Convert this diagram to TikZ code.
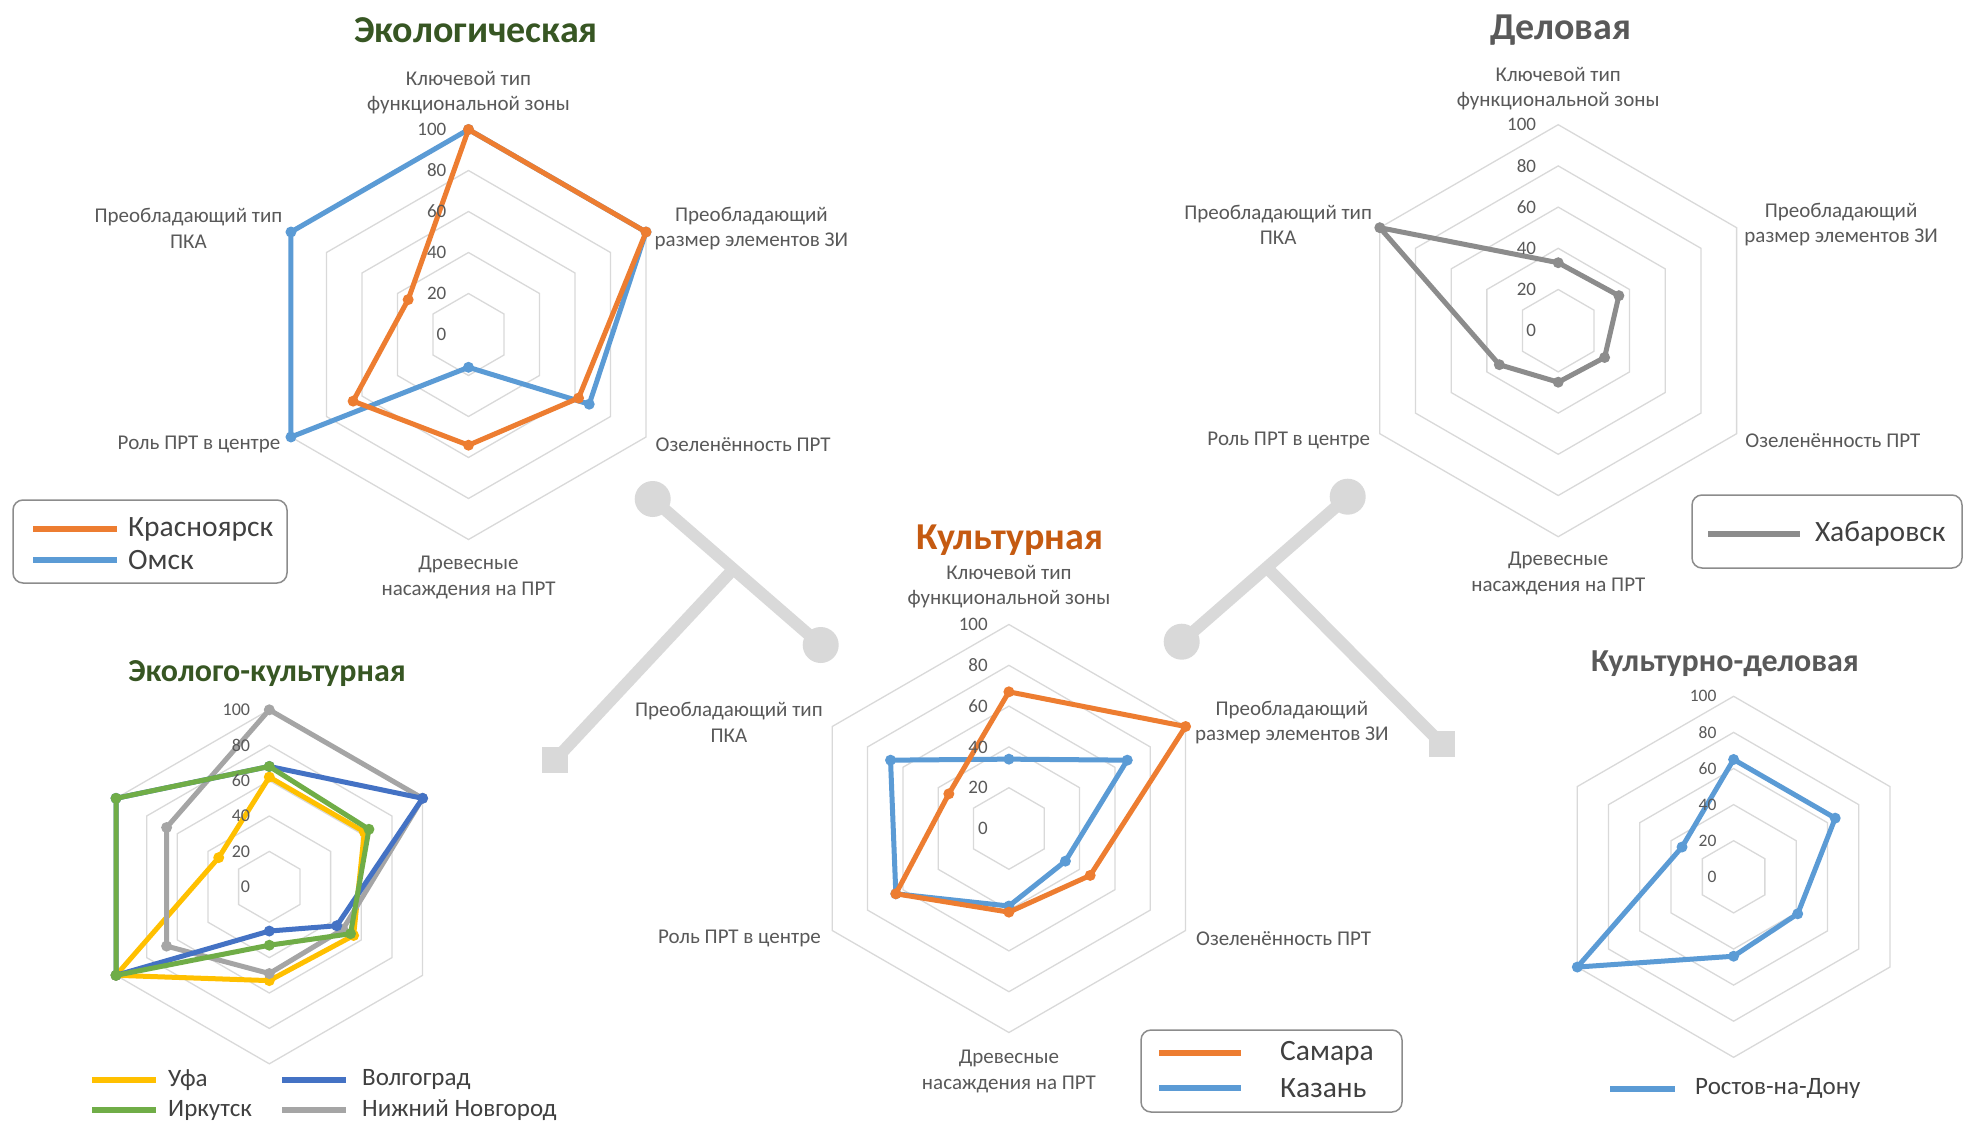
\documentclass[tikz,border=0pt]{standalone}
\usepackage{fontspec}
\setmainfont{Carlito}
\usetikzlibrary{calc}
\definecolor{cOr}{HTML}{ED7D31}
\definecolor{cBl}{HTML}{5B9BD5}
\definecolor{cDb}{HTML}{4472C4}
\definecolor{cGr}{HTML}{70AD47}
\definecolor{cYe}{HTML}{FFC000}
\definecolor{cGy}{HTML}{A5A5A5}
\definecolor{cKh}{HTML}{8C8C8C}
\definecolor{cGrid}{HTML}{D9D9D9}
\definecolor{cTxt}{HTML}{595959}
\definecolor{cLeg}{HTML}{404040}
\definecolor{cBox}{HTML}{8C8C8C}
\definecolor{cTGreen}{HTML}{375623}
\definecolor{cTOr}{HTML}{C55A11}
\definecolor{cConn}{HTML}{D9D9D9}
% grid: cx cy R
\newcommand\mygrid[3]{%
  \begin{scope}[shift={(#1,#2)}]
  \foreach \rr in {1,...,5}{%
    \draw[rgrid] (-90:{\rr/5*#3}) -- (-30:{\rr/5*#3}) -- (30:{\rr/5*#3}) -- (90:{\rr/5*#3}) -- (150:{\rr/5*#3}) -- (210:{\rr/5*#3}) -- cycle;}
  \end{scope}}
% series: cx cy R color values prefix
\newcommand\myseries[6]{%
  \begin{scope}[shift={(#1,#2)}]
  \foreach \vv [count=\kk from 0] in {#5}{%
    \coordinate (#6\kk) at ({60*\kk-90}:{\vv/100*#3});}
  \draw[serline,draw=#4] (#60) -- (#61) -- (#62) -- (#63) -- (#64) -- (#65) -- cycle;
  \foreach \kk in {0,...,5}{\fill[#4] (#6\kk) circle (5.5);}
  \end{scope}}
% scale labels: cx cy R fontsize xoffset prefix
\newcommand\myscale[6]{%
  \foreach \vv [count=\kk from 0] in {0,20,40,60,80,100}{%
    \node[scalelab,font=\fontsize{#4}{#4}\selectfont] (#6s\kk) at ({#1-#5},{#2-\vv/100*#3}) {\vv};}}
% axis labels: cx cy prefix
\newcommand\myaxes[3]{%
  \node[axlab,anchor=center] (#3a0) at (#1,{#2-242}) {Ключевой тип\\функциональной зоны};
  \node[axlab,anchor=west] (#3a1) at ({#1+186},{#2-106}) {Преобладающий\\размер элементов ЗИ};
  \node[axlab,anchor=west] (#3a2) at ({#1+187},{#2+110}) {Озеленённость ПРТ};
  \node[axlab,anchor=center] (#3a3) at (#1,{#2+243}) {Древесные\\насаждения на ПРТ};
  \node[axlab,anchor=east] (#3a4) at ({#1-188},{#2+110}) {Роль ПРТ в центре};
  \node[axlab,anchor=east] (#3a5) at ({#1-186},{#2-106}) {Преобладающий тип\\ПКА};}
\begin{document}
\begin{tikzpicture}[x=1pt,y=-1pt,
  rgrid/.style={draw=cGrid,line width=1.3pt,line join=miter},
  serline/.style={line width=5pt,line join=round},
  axlab/.style={text=cTxt,font=\fontsize{21}{25.5}\selectfont,align=center,inner sep=0pt},
  scalelab/.style={text=cTxt,inner sep=0pt,anchor=east},
  ttl/.style={inner sep=0pt,font=\bfseries\fontsize{38}{44}\selectfont},
  ttlsmall/.style={inner sep=0pt,font=\bfseries\fontsize{32}{38}\selectfont},
  legbox/.style={draw=cBox,line width=1.5pt,rounded corners=10pt,inner sep=0pt},
  legline/.style={line width=6pt},
  legtext/.style={text=cLeg,inner sep=0pt,anchor=west,font=\fontsize{29.5}{34}\selectfont},
  legtextsm/.style={text=cLeg,inner sep=0pt,anchor=west,font=\fontsize{25}{29}\selectfont},
  conn/.style={draw=cConn,line width=12pt},
  connc/.style={circle,fill=cConn,minimum size=36pt,inner sep=0pt},
  connsq/.style={rectangle,fill=cConn,minimum size=26pt,inner sep=0pt}]
\fill[white] (0,0) rectangle (1964,1126);
\useasboundingbox (0,0) rectangle (1964,1126);

% ---------- connectors ----------
\node[connc] (cA) at (652.7,499) {};
\node[connc] (cB) at (820.7,645) {};
\coordinate (jL) at ($(cA)!0.48!(cB)$);
\node[connsq] (sqL) at (555,760) {};
\draw[conn] (cA.center) -- (cB.center);
\draw[conn] (jL) -- (sqL.center);
\node[connc] (cC) at (1347.7,496.7) {};
\node[connc] (cD) at (1181.7,641.7) {};
\coordinate (jR) at ($(cC)!0.488!(cD)$);
\node[connsq] (sqR) at (1441.7,744) {};
\draw[conn] (cC.center) -- (cD.center);
\draw[conn] (jR) -- (sqR.center);

% ---------- Экологическая ----------
\mygrid{468.5}{334.5}{205}
\myseries{468.5}{334.5}{205}{cBl}{100,100,68,16,100,100}{om}
\myseries{468.5}{334.5}{205}{cOr}{100,100,62,54,65,34}{kr}
\myscale{468.5}{334.5}{205}{19}{22}{eco}
\myaxes{468.5}{334.5}{eco}
\node[ttl,text=cTGreen] (t1) at (476,30) {Экологическая};
\node[legbox,minimum width=274pt,minimum height=83pt] (lg1) at (150,541.5) {};
\draw[legline,cOr] (33,529) -- (117,529);
\draw[legline,cBl] (33,560) -- (117,560);
\node[legtext] (lg1a) at (128,529) {Красноярск};
\node[legtext] (lg1b) at (128,560) {Омск};

% ---------- Деловая ----------
\mygrid{1558.2}{330.7}{206}
\myseries{1558.2}{330.7}{206}{cKh}{33,34,26,25,33,100}{kh}
\myscale{1558.2}{330.7}{206}{19}{22}{bus}
\myaxes{1558.2}{330.7}{bus}
\node[ttl,text=cTxt] (t2) at (1561,30) {Деловая};
\node[legbox,minimum width=270pt,minimum height=73pt] (lg2) at (1827,531.5) {};
\draw[legline,cKh] (1708,534) -- (1800,534);
\node[legtext] (lg2a) at (1815,534) {Хабаровск};

% ---------- Культурная ----------
\mygrid{1008.9}{828.5}{204}
\myseries{1008.9}{828.5}{204}{cBl}{34,67,32,38,64,67}{kz}
\myseries{1008.9}{828.5}{204}{cOr}{67,100,46,41,64,34}{sm}
\myscale{1008.9}{828.5}{204}{19}{21}{cul}
\myaxes{1008.9}{828.5}{cul}
\node[ttl,text=cTOr] (t3) at (1010,540) {Культурная};
\node[legbox,minimum width=261pt,minimum height=82pt] (lg3) at (1271.5,1071) {};
\draw[legline,cOr] (1159,1053) -- (1241,1053);
\draw[legline,cBl] (1159,1088) -- (1241,1088);
\node[legtext] (lg3a) at (1280,1053) {Самара};
\node[legtext] (lg3b) at (1280,1088) {Казань};

% ---------- Эколого-культурная ----------
\mygrid{269.3}{886.8}{177}
\myseries{269.3}{886.8}{177}{cYe}{62,62,55,53,100,33}{uf}
\myseries{269.3}{886.8}{177}{cGy}{100,100,48,49,67,67}{nn}
\myseries{269.3}{886.8}{177}{cDb}{68,100,44,25,100,100}{vg}
\myseries{269.3}{886.8}{177}{cGr}{68,65,53,33,100,100}{ir}
\myscale{269.3}{886.8}{177}{18}{19}{ec}
\node[ttlsmall,text=cTGreen] (t4) at (267,674) {Эколого-культурная};
\draw[legline,cYe] (92,1080) -- (156,1080);
\draw[legline,cGr] (92,1110) -- (156,1110);
\draw[legline,cDb] (282,1080) -- (346,1080);
\draw[legline,cGy] (282,1110) -- (346,1110);
\node[legtextsm] (lg4a) at (168,1080) {Уфа};
\node[legtextsm] (lg4b) at (168,1110) {Иркутск};
\node[legtextsm] (lg4c) at (362,1080) {Волгоград};
\node[legtextsm] (lg4d) at (362,1110) {Нижний Новгород};

% ---------- Культурно-деловая ----------
\mygrid{1733.6}{876.8}{180.5}
\myseries{1733.6}{876.8}{180.5}{cBl}{65,65,41,44,100,33}{ro}
\myscale{1733.6}{876.8}{180.5}{17.5}{17}{cb}
\node[ttlsmall,text=cTxt] (t5) at (1725,664) {Культурно-деловая};
\draw[legline,cBl] (1610,1088.5) -- (1675,1088.5);
\node[legtextsm] (lg5a) at (1695,1088.5) {Ростов-на-Дону};
\end{tikzpicture}
\end{document}
